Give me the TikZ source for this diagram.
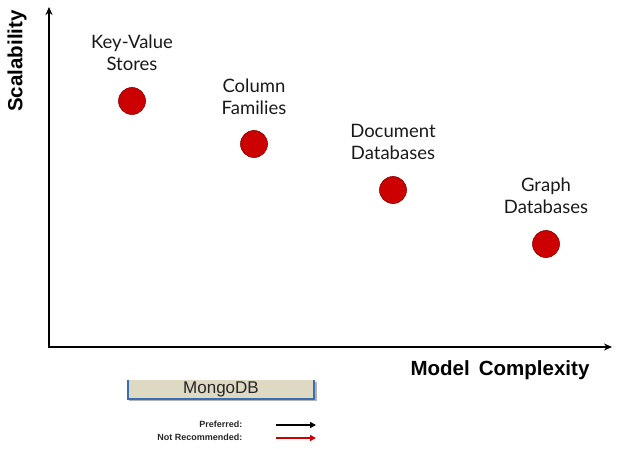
\documentclass[tikz,border=0pt]{standalone}
\usepackage{fontspec}
\setmainfont{Liberation Sans}
\newfontfamily\gillish{Lato}
\usetikzlibrary{arrows.meta}
\definecolor{dotred}{HTML}{CC0000}
\definecolor{dotedge}{HTML}{8B0000}
\definecolor{boxfill}{HTML}{DDD9C3}
\definecolor{boxblue}{HTML}{3A6EB0}
\definecolor{legred}{HTML}{CC0000}
\tikzset{
  axis/.style={line width=1.8pt,-{Stealth[length=8pt,width=7pt]}},
  dot/.style={circle,fill=dotred,draw=dotedge,line width=0.6pt,minimum size=27pt,inner sep=0pt},
  cat/.style={font=\gillish\fontsize{18.5}{22}\selectfont,align=center,text=black!90},
  axlabel/.style={font=\bfseries\fontsize{20.5}{24}\selectfont},
  leglabel/.style={font=\bfseries\fontsize{9}{11}\selectfont,anchor=east,text=black!85},
  legarrow/.style={line width=1.6pt,-{Triangle[length=6pt,width=6pt]}}
}
\begin{document}
\begin{tikzpicture}[x=1pt,y=-1pt]
\useasboundingbox (0,0) rectangle (621,449);
% axes
\coordinate (origin) at (49,347);
\coordinate (ytop) at (49,7);
\coordinate (xend) at (612,347);
\draw[axis] ([yshift=0.9pt]origin) -- (ytop);
\draw[axis] ([xshift=-0.9pt]origin) -- (xend);
\node[axlabel,rotate=90] (ylab) at (17,61) {Scalability};
\node[axlabel] (xlab) at (500,370) {Model\, Complexity};
% points
\node[dot] (kv) at (132,101) {};
\node[dot] (cf) at (254,144) {};
\node[dot] (dd) at (393,190) {};
\node[dot] (gd) at (546,244) {};
\node[cat] (kvl) at (132,53) {Key-Value\\Stores};
\node[cat] (cfl) at (254,97) {Column\\Families};
\node[cat] (ddl) at (393,142) {Document\\Databases};
\node[cat] (gdl) at (546,196) {Graph\\Databases};
% MongoDB box
\fill[black!30] (129,382) rectangle (317,401);
\fill[boxfill] (127,380) rectangle (315,399);
\draw[boxblue,line width=2pt] (128,380) -- (128,398.5) -- (314,398.5) -- (314,380);
\node[font=\fontsize{17}{19}\selectfont,text=black!85] (mongo) at (221,389.5) {MongoDB};
% legend
\node[leglabel] (pref) at (246,424.5) {Preferred:};
\node[leglabel] (notrec) at (246,437.5) {Not Recommended:};
\coordinate (pa) at (276,425);
\coordinate (pb) at (316,425);
\coordinate (ra) at (276,438);
\coordinate (rb) at (316,438);
\draw[legarrow,black] (pa) -- (pb);
\draw[legarrow,legred] (ra) -- (rb);
\end{tikzpicture}
\end{document}
